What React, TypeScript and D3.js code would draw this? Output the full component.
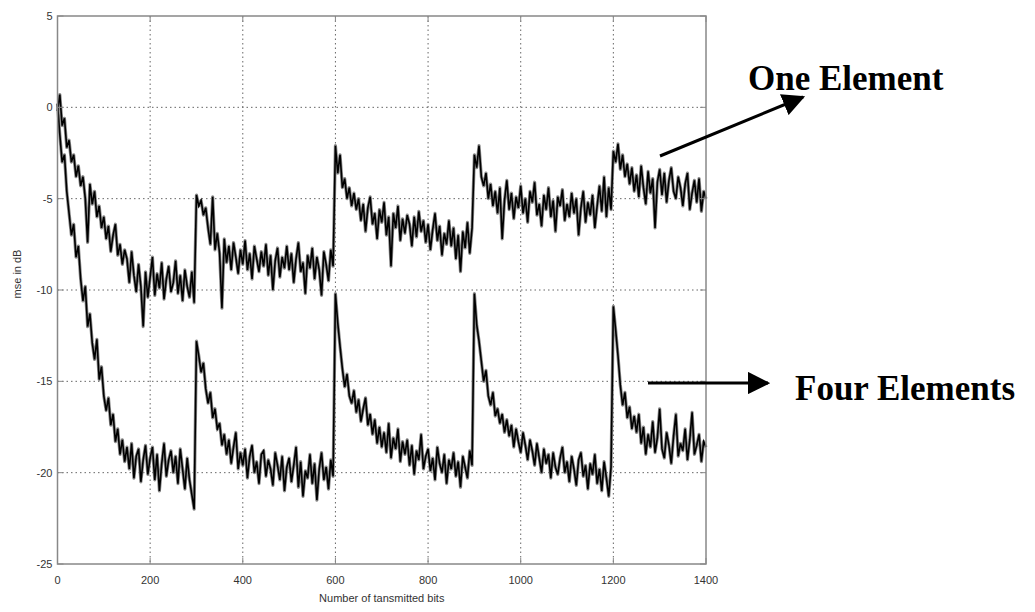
import * as d3 from "d3"
import React from "react"

// sampled every 5 bits, 0..1400
const step = 5

const oneElement = [
  -0.2, 0.7, -1.0, -0.6, -2.2, -1.8, -3.0, -2.6, -3.8, -3.2,
  -4.3, -3.8, -5.0, -7.4, -4.2, -5.3, -4.6, -6.0, -5.4, -6.6,
  -6.0, -7.2, -6.5, -7.9, -7.0, -6.4, -8.1, -7.5, -8.6, -7.8,
  -8.3, -9.6, -7.9, -9.2, -10.1, -8.6, -9.8, -12.0, -9.0, -10.4,
  -9.3, -8.2, -10.3, -9.1, -9.9, -8.5, -10.5, -9.4, -8.7, -10.1,
  -9.6, -8.4, -10.2, -9.2, -10.6, -8.9, -9.8, -10.4, -9.0, -10.7,
  -4.8, -5.4, -5.1, -5.9, -5.5, -6.6, -7.5, -4.9, -7.8, -6.9,
  -8.0, -11.0, -7.2, -8.5, -7.6, -8.9, -7.4, -8.2, -9.1, -7.8,
  -8.6, -7.3, -8.9, -8.0, -9.4, -7.6, -8.3, -9.0, -7.9, -8.7,
  -7.5, -9.2, -8.1, -10.0, -8.4, -7.7, -9.3, -8.2, -8.8, -7.6,
  -8.9, -8.0, -9.6, -8.3, -7.4, -9.0, -8.5, -10.2, -8.1, -8.8,
  -7.7, -9.4, -8.2, -8.9, -10.3, -7.9, -8.6, -9.5, -7.8, -8.7,
  -2.1, -3.6, -2.6, -4.4, -3.9, -5.0, -4.4, -5.4, -4.7, -5.6,
  -5.0, -6.2, -5.3, -6.8, -5.5, -4.9, -6.4, -5.8, -7.2, -5.6,
  -6.3, -5.2, -7.0, -6.0, -8.7, -5.8, -6.6, -5.4, -7.3, -6.1,
  -6.9, -5.9, -6.4, -7.6, -6.0, -7.1, -5.7, -6.8, -6.2, -7.4,
  -6.4, -7.8, -6.7, -5.8, -7.3, -6.5, -8.1, -6.9, -7.5, -6.2,
  -7.6, -6.6, -8.3, -7.0, -9.0, -6.8, -7.7, -6.3, -8.0, -6.6,
  -2.6, -3.3, -2.1, -3.8, -4.3, -3.6, -5.0, -4.2, -5.4, -4.6,
  -5.8, -4.4, -7.2, -5.1, -4.0, -5.6, -4.7, -6.1, -4.9, -5.5,
  -4.3, -5.8, -5.0, -6.3, -4.6, -5.2, -4.1, -5.9, -5.3, -6.5,
  -4.8, -5.6, -4.4, -6.0, -5.1, -6.8, -4.9, -5.4, -4.5, -6.2,
  -5.3, -6.0, -4.7, -5.8, -5.0, -7.0, -5.5, -4.6, -6.3, -5.2,
  -5.9, -4.8, -6.6, -5.4, -4.3, -5.7, -3.8, -6.0, -4.4, -5.6,
  -2.4, -3.0, -2.0, -3.4, -2.6, -3.8, -3.1, -4.2, -3.3, -4.6,
  -3.7, -4.9, -3.2, -4.4, -5.3, -3.5, -4.7, -3.9, -6.6, -4.1,
  -3.4, -4.8, -3.6, -5.2, -4.0, -3.3, -4.6, -5.0, -3.8, -4.4,
  -5.4, -4.2, -3.6, -5.6, -4.7, -4.0, -5.2, -3.9, -5.7, -4.6,
  -5.0,
]

const fourElements = [
  0.2, -1.5, -3.0, -2.6, -4.6, -5.8, -7.0, -6.4, -8.2, -7.6,
  -9.4, -10.6, -9.8, -12.0, -11.3, -12.9, -13.8, -12.7, -14.9, -14.2,
  -15.8, -16.6, -15.9, -17.4, -16.8, -18.3, -17.6, -19.0, -18.2, -19.4,
  -18.6, -19.8, -18.4, -20.3, -19.1, -18.7, -20.5, -19.3, -18.5, -20.1,
  -19.2, -18.6, -20.4, -19.0, -21.0, -19.5, -18.4, -20.2, -19.3, -18.8,
  -20.0, -19.1, -20.6, -18.7, -19.8, -20.9, -19.2, -20.4, -21.2, -22.0,
  -12.8, -13.6, -14.5, -14.0, -15.4, -16.2, -15.6, -17.0, -16.5, -17.6,
  -17.3, -18.5, -17.9, -19.0, -18.2, -19.5, -18.6, -17.8, -19.8, -18.9,
  -19.6, -18.7, -20.3, -19.1, -18.5, -20.0, -19.4, -20.6, -19.0, -18.8,
  -20.2, -19.3, -19.8, -20.7, -18.9, -19.6, -20.4, -19.1, -21.0, -19.7,
  -19.2, -20.5, -19.6, -18.6, -20.8, -19.4, -21.3, -19.9, -20.3, -19.0,
  -20.6, -19.5, -21.5, -19.8, -18.9, -20.4, -19.7, -20.9, -19.3, -20.2,
  -10.2, -11.8, -13.1, -14.3, -15.3, -14.6, -15.8, -16.2, -15.5, -16.7,
  -16.0, -17.2, -16.5, -15.9, -17.4, -16.8, -17.9, -17.1, -18.4, -17.5,
  -18.6, -17.8, -18.9, -17.3, -19.2, -18.1, -18.7, -17.6, -19.4, -18.3,
  -19.0, -18.2, -19.6, -18.5, -20.1, -18.8, -19.3, -17.9, -19.8, -19.1,
  -18.7, -19.9, -19.2, -20.4, -18.6, -19.5, -20.0, -19.0, -20.6, -19.3,
  -19.8, -18.9, -20.2, -19.4, -20.8, -19.1, -19.7, -20.3, -18.8, -19.6,
  -10.2, -11.9, -12.8, -13.9, -15.0, -14.4, -15.8, -16.3, -15.6, -16.9,
  -16.5, -17.3, -16.8, -17.8, -17.1, -18.0, -17.4, -18.6, -17.6, -18.3,
  -18.9, -17.8, -18.5, -19.3, -18.2, -18.8, -19.6, -18.4, -19.2, -20.0,
  -18.7, -19.5, -19.0, -20.3, -18.9, -19.7, -20.1, -19.2, -18.6, -20.0,
  -19.4, -20.5, -19.1, -19.8, -20.7, -19.3, -18.9, -20.2, -19.6, -20.9,
  -19.5, -20.1, -19.0, -20.6, -19.8, -21.0, -19.4, -20.3, -21.3, -19.7,
  -10.9, -12.2, -13.6, -15.2, -16.3, -15.6, -17.0, -16.4, -17.6, -16.9,
  -17.8, -16.8, -18.4, -17.5, -19.0, -17.9, -18.6, -17.2, -18.9, -18.1,
  -16.5, -18.7, -19.2, -17.8, -18.5, -19.5, -18.0, -16.8, -19.1, -18.4,
  -18.8, -17.6, -19.3, -18.2, -16.7, -19.0, -18.5, -17.9, -19.4, -18.3,
  -18.6,
]

const xTicks = [0, 200, 400, 600, 800, 1000, 1200, 1400]
const yTicks = [-25, -20, -15, -10, -5, 0, 5]

const W = 1035
const H = 612
const plot = { left: 57.5, right: 706, top: 16, bottom: 564 }

const App = () => {
  const x = d3.scaleLinear().domain([0, 1400]).range([plot.left, plot.right])
  const y = d3.scaleLinear().domain([-25, 5]).range([plot.bottom, plot.top])

  const line = d3
    .line<number>()
    .x((d, i) => x(i * step))
    .y((d) => y(d))

  const tickFont = "Liberation Sans, Arial, sans-serif"
  const serif = "Liberation Serif, Times New Roman, serif"

  return (
    <svg
      width={W}
      height={H}
      style={{ position: "absolute", left: 0, top: 0, background: "#fff" }}
    >
      <defs>
        <marker
          id="arrow"
          viewBox="0 0 10 10"
          refX="9"
          refY="5"
          markerWidth="7.5"
          markerHeight="7.5"
          markerUnits="strokeWidth"
          orient="auto"
        >
          <path d="M0,0 L10,5 L0,10 z" fill="#000" />
        </marker>
      </defs>

      {/* grid */}
      <g stroke="#666" strokeWidth={1} strokeDasharray="1.5,3">
        {xTicks.slice(1, -1).map((t) => (
          <line key={"gx" + t} x1={x(t)} x2={x(t)} y1={plot.top} y2={plot.bottom} />
        ))}
        {yTicks.slice(1, -1).map((t) => (
          <line key={"gy" + t} x1={plot.left} x2={plot.right} y1={y(t)} y2={y(t)} />
        ))}
      </g>

      {/* series: gray halo under a dark line */}
      <path d={line(oneElement) || ""} fill="none" stroke="#8a8a8a" strokeWidth={3.2} strokeLinejoin="round" />
      <path d={line(fourElements) || ""} fill="none" stroke="#8a8a8a" strokeWidth={3.2} strokeLinejoin="round" />
      <path d={line(oneElement) || ""} fill="none" stroke="#000" strokeWidth={1.6} />
      <path d={line(fourElements) || ""} fill="none" stroke="#000" strokeWidth={1.6} />

      {/* axes box */}
      <rect
        x={plot.left}
        y={plot.top}
        width={plot.right - plot.left}
        height={plot.bottom - plot.top}
        fill="none"
        stroke="#888"
        strokeWidth={1.5}
      />
      <g stroke="#888" strokeWidth={1}>
        {xTicks.map((t) => (
          <g key={"tx" + t}>
            <line x1={x(t)} x2={x(t)} y1={plot.bottom} y2={plot.bottom - 6} />
            <line x1={x(t)} x2={x(t)} y1={plot.top} y2={plot.top + 6} />
          </g>
        ))}
        {yTicks.map((t) => (
          <g key={"ty" + t}>
            <line x1={plot.left} x2={plot.left + 6} y1={y(t)} y2={y(t)} />
            <line x1={plot.right} x2={plot.right - 6} y1={y(t)} y2={y(t)} />
          </g>
        ))}
      </g>

      <g fontFamily={tickFont} fontSize={11} fill="#333">
        {xTicks.map((t) => (
          <text key={"lx" + t} x={x(t)} y={plot.bottom + 20} textAnchor="middle">
            {t}
          </text>
        ))}
        {yTicks.map((t) => (
          <text key={"ly" + t} x={plot.left - 5} y={y(t) + 4} textAnchor="end">
            {t}
          </text>
        ))}
        <text x={(plot.left + plot.right) / 2} y={602} textAnchor="middle">
          Number of tansmitted bits
        </text>
        <text transform="translate(21,274) rotate(-90)" textAnchor="middle">
          mse in dB
        </text>
      </g>

      {/* annotations */}
      <line x1={660} y1={156} x2={803} y2={97} stroke="#000" strokeWidth={3} markerEnd="url(#arrow)" />
      <line x1={648} y1={383} x2={768} y2={383} stroke="#000" strokeWidth={3} markerEnd="url(#arrow)" />
      <g fontFamily={serif} fontWeight="bold" fontSize={35} fill="#000">
        <text x={748} y={90}>One Element</text>
        <text x={795} y={400}>Four Elements</text>
      </g>
    </svg>
  )
}

export default App
